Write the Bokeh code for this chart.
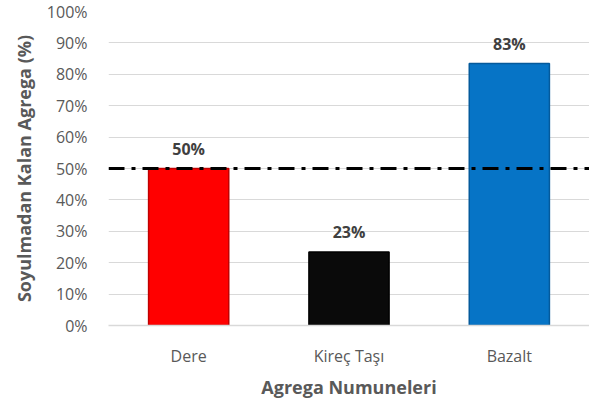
from bokeh.plotting import figure
from bokeh.models import ColumnDataSource, Span, NumeralTickFormatter, FixedTicker, Range1d
from bokeh.core.properties import value
from bokeh.embed import file_html
from bokeh.resources import INLINE

# Aggregate samples and the share of aggregate left uncoated (%)
categories = ["Dere", "Kireç Taşı", "Bazalt"]
retained = [50.0, 23.4, 83.4]
colors = ["#ff0000", "#0a0a0a", "#0674c6"]
edge_colors = ["#c00000", "#000000", "#045a9c"]
threshold = 50.0
y_ticks = [0, 10, 20, 30, 40, 50, 60, 70, 80, 90, 100]

FONT = "Open Sans"
GREY = "#595959"

src = ColumnDataSource(dict(
    cat=categories,
    val=[v / 100 for v in retained],
    label=[f"{v:.0f}%" for v in retained],
    fill=colors,
    edge=edge_colors,
))

p = figure(
    x_range=categories, y_range=Range1d(0, 1),
    width=589, height=401,
    min_border_left=108, min_border_right=0, min_border_top=11, min_border_bottom=75,
    output_backend="svg", toolbar_location=None,
)
p.outline_line_color = None
p.background_fill_color = "white"
p.border_fill_color = "white"

p.vbar(x="cat", top="val", width=0.5, source=src,
       fill_color="fill", line_color="edge", line_width=1.5)

p.text(x="cat", y="val", text="label", source=src,
       text_align="center", text_baseline="bottom", y_offset=-9,
       text_font=value(FONT), text_font_style="bold", text_font_size="16px",
       text_color="#404040")

# 50% reference line
p.add_layout(Span(location=threshold / 100, dimension="width",
                  line_color="black", line_width=3, line_dash="16 7 4 7"))

# grid
p.xgrid.grid_line_color = None
p.ygrid.grid_line_color = "#d9d9d9"
p.ygrid.grid_line_width = 1
p.ygrid.level = "underlay"

# y axis
p.yaxis.ticker = FixedTicker(ticks=[t / 100 for t in y_ticks])
p.yaxis.formatter = NumeralTickFormatter(format="0%")
p.yaxis.axis_line_color = None
p.yaxis.major_tick_line_color = None
p.yaxis.minor_tick_line_color = None
p.yaxis.major_label_standoff = 15
p.yaxis.major_label_text_font = FONT
p.yaxis.major_label_text_font_size = "16px"
p.yaxis.major_label_text_color = GREY
p.yaxis.axis_label = "Soyulmadan Kalan Agrega (%)"
p.yaxis.axis_label_text_font = FONT
p.yaxis.axis_label_text_font_size = "18px"
p.yaxis.axis_label_text_font_style = "bold"
p.yaxis.axis_label_text_color = GREY
p.yaxis.axis_label_standoff = 8

# x axis
p.xaxis.axis_line_color = "#d9d9d9"
p.xaxis.axis_line_width = 1.5
p.xaxis.major_tick_line_color = None
p.xaxis.minor_tick_line_color = None
p.xaxis.major_label_standoff = 13
p.xaxis.major_label_text_font = FONT
p.xaxis.major_label_text_font_size = "16px"
p.xaxis.major_label_text_color = GREY
p.xaxis.axis_label = "Agrega Numuneleri"
p.xaxis.axis_label_text_font = FONT
p.xaxis.axis_label_text_font_size = "18px"
p.xaxis.axis_label_text_font_style = "bold"
p.xaxis.axis_label_text_color = GREY
p.xaxis.axis_label_standoff = 5

open("out.html", "w").write(file_html(p, INLINE))
